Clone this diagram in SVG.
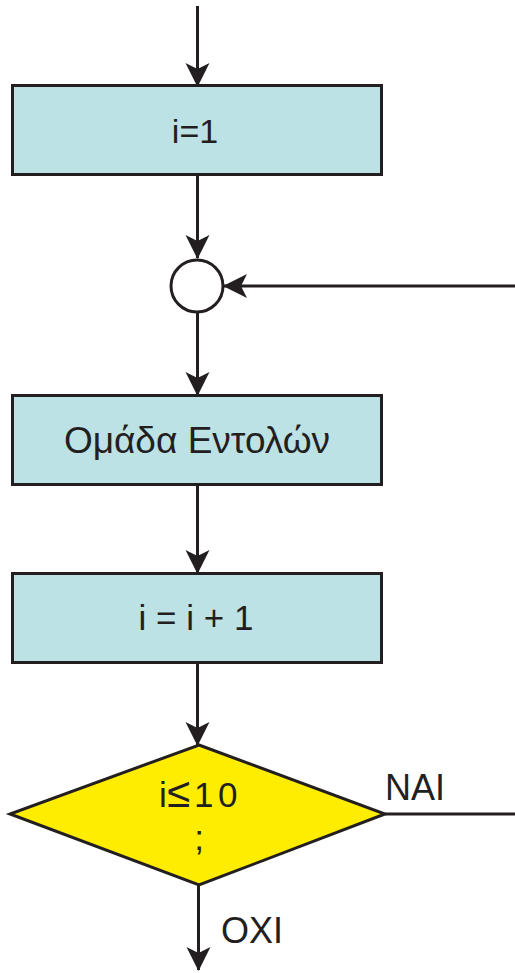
<svg xmlns="http://www.w3.org/2000/svg" width="515" height="973" viewBox="0 0 515 973">
  <style>
    .box { fill: #bde2e6; stroke: #231f20; stroke-width: 3; }
    .dec { fill: #ffed00; stroke: #231f20; stroke-width: 3; stroke-linejoin: miter; }
    .joint { fill: #ffffff; stroke: #231f20; stroke-width: 3; }
    .wire { fill: none; stroke: #231f20; stroke-width: 3; }
    .lbl { font-family: "Liberation Sans", Arial, sans-serif; fill: #231f20; }
  </style>
  <defs>
    <marker id="arrow" viewBox="0 0 24 26" refX="23" refY="13" markerWidth="24" markerHeight="26" markerUnits="userSpaceOnUse" orient="auto">
      <path d="M0,1 L24,13 L0,25 L6,13 Z" fill="#231f20"/>
    </marker>
  </defs>

  <g id="connectors">
    <path class="wire" d="M197.5,6 V86" marker-end="url(#arrow)"/>
    <path class="wire" d="M197.5,175 V258" marker-end="url(#arrow)"/>
    <path class="wire" d="M197.5,313 V395" marker-end="url(#arrow)"/>
    <path class="wire" d="M197.5,485 V573" marker-end="url(#arrow)"/>
    <path class="wire" d="M197.5,663 V745" marker-end="url(#arrow)"/>
    <path class="wire" d="M198.5,885 V970" marker-end="url(#arrow)"/>
    <path class="wire" d="M385,814 H515"/>
    <path class="wire" d="M515,286 H224" marker-end="url(#arrow)"/>
  </g>

  <g id="init">
    <rect class="box" x="12.5" y="85.5" width="369" height="89"/>
    <text class="lbl" x="195" y="143" font-size="34" text-anchor="middle">i=1</text>
  </g>

  <g id="join">
    <circle class="joint" cx="197" cy="286" r="26"/>
  </g>

  <g id="body">
    <rect class="box" x="12.5" y="395.5" width="369" height="89"/>
    <text class="lbl" x="197" y="453" font-size="37" text-anchor="middle">Ομάδα Εντολών</text>
  </g>

  <g id="step">
    <rect class="box" x="12.5" y="573.5" width="369" height="89"/>
    <text class="lbl" x="196" y="630" font-size="35" text-anchor="middle">i = i + 1</text>
  </g>

  <g id="test">
    <polygon class="dec" points="199,745 385,814 199,885 10,814"/>
    <text class="lbl" y="807" font-size="35"><tspan x="159">i</tspan><tspan x="167" font-size="42">≤</tspan><tspan x="194">1</tspan><tspan x="218">0</tspan></text>
    <text class="lbl" x="199" y="850" font-size="35" text-anchor="middle">;</text>
  </g>

  <g id="labels">
    <text class="lbl" x="385" y="800" font-size="36">NAI</text>
    <text class="lbl" x="221" y="943" font-size="36">OXI</text>
  </g>
</svg>
